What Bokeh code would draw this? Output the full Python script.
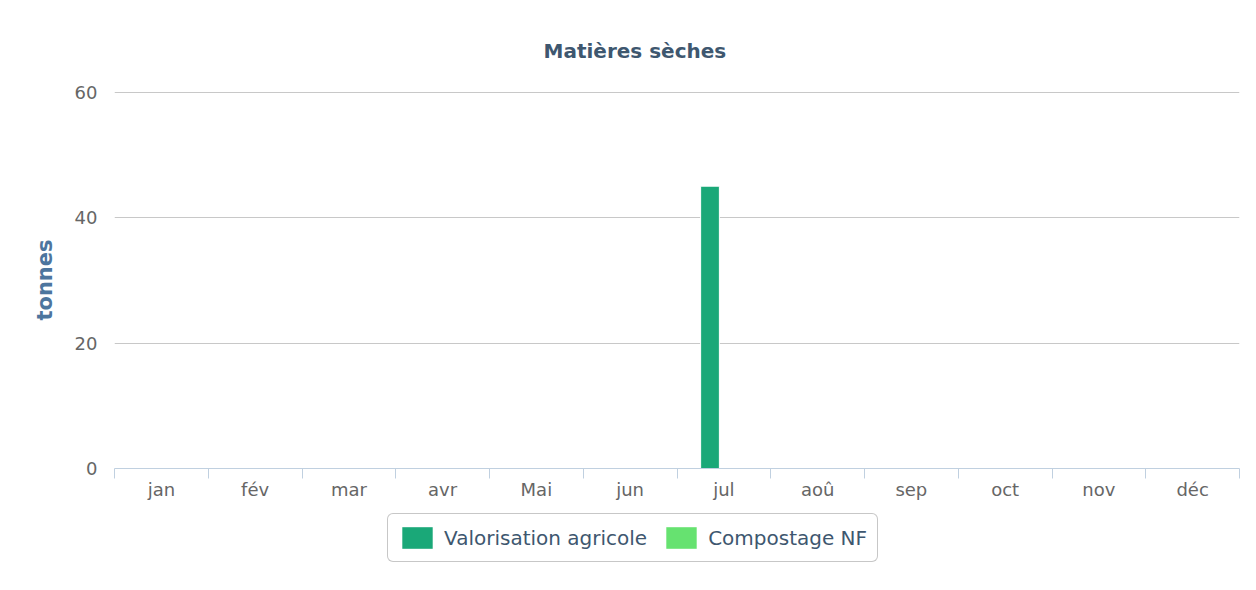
import numpy as np
from bokeh.plotting import figure
from bokeh.layouts import column
from bokeh.models import (ColumnDataSource, Range1d, FixedTicker, Legend, LegendItem,
                          LinearAxis, Grid)
from bokeh.transform import dodge
from bokeh.embed import file_html
from bokeh.resources import INLINE

# ---- data ----
months = ["jan", "fév", "mar", "avr", "Mai", "jun", "jul", "aoû", "sep", "oct", "nov", "déc"]
valorisation = [0, 0, 0, 0, 0, 0, 45, 0, 0, 0, 0, 0]
compostage = [0, 0, 0, 0, 0, 0, 0, 0, 0, 0, 0, 0]
series_names = ["Valorisation agricole", "Compostage NF"]
series_fields = ["v", "c"]
series_colors = ["#1aa878", "#66e270"]
y_ticks = [0, 20, 40, 60]
title_text = "Matières sèches"
y_title = "tonnes"

FONT = "DejaVu Sans"
W = 1248

pos = np.arange(len(months)) + 0.5
src = ColumnDataSource(dict(pos=pos, month=months, v=valorisation, c=compostage))

p = figure(width=W, height=508, output_backend="svg", toolbar_location=None,
           x_range=Range1d(0, len(months)), y_range=Range1d(0, max(y_ticks) * 1.0015),
           x_axis_type=None, y_axis_type=None,
           min_border_left=114, min_border_right=9, min_border_top=91, min_border_bottom=40)
p.outline_line_color = None
p.background_fill_color = "white"
p.border_fill_color = "white"

# title
p.title.text = title_text
p.title.text_font = FONT
p.title.text_font_size = "20px"
p.title.text_font_style = "bold"
p.title.text_color = "#3E576F"
p.title.align = "left"
p.title.offset = 429
p.title.vertical_align = "bottom"
p.title.standoff = 58

# y axis
yticker = FixedTicker(ticks=y_ticks, minor_ticks=[])
yaxis = LinearAxis(ticker=yticker)
yaxis.axis_line_color = None
yaxis.major_tick_line_color = None
yaxis.minor_tick_line_color = None
yaxis.major_tick_out = 0
yaxis.major_tick_in = 0
yaxis.major_label_standoff = 17
yaxis.major_label_text_font = FONT
yaxis.major_label_text_font_size = "18px"
yaxis.major_label_text_color = "#666666"
yaxis.axis_label = y_title
yaxis.axis_label_text_font = FONT
yaxis.axis_label_text_font_size = "21px"
yaxis.axis_label_text_font_style = "bold"
yaxis.axis_label_text_color = "#4d759e"
yaxis.axis_label_standoff = 15
p.add_layout(yaxis, "left")

p.add_layout(Grid(dimension=1, ticker=yticker, grid_line_color="#c8c8c8", grid_line_width=1))

# x axis: labels at category centres, ticks at category boundaries
xticker = FixedTicker(ticks=list(pos), minor_ticks=list(range(len(months) + 1)))
xaxis = LinearAxis(ticker=xticker)
xaxis.major_label_overrides = {float(x): m for x, m in zip(pos, months)}
xaxis.axis_line_color = "#C0D0E0"
xaxis.axis_line_width = 1
xaxis.major_tick_line_color = None
xaxis.major_tick_out = 10
xaxis.major_tick_in = 0
xaxis.minor_tick_line_color = "#C0D0E0"
xaxis.minor_tick_out = 10
xaxis.minor_tick_in = 0
xaxis.major_label_standoff = 0
xaxis.major_label_text_font = FONT
xaxis.major_label_text_font_size = "18px"
xaxis.major_label_text_color = "#666666"
p.add_layout(xaxis, "below")

# bars
p.vbar(x=dodge("pos", -0.148), top="v", width=0.2, source=src,
       fill_color=series_colors[0], line_color="white", line_width=1)
p.vbar(x=dodge("pos", 0.148), top="c", width=0.2, source=src,
       fill_color=series_colors[1], line_color="white", line_width=1)

# legend strip (separate figure so the legend is not clipped by the chart frame);
# its proxy renderers use the same data but lie outside that strip's ranges
LH = 74
p2 = figure(width=W, height=LH, output_backend="svg", toolbar_location=None,
            x_range=Range1d(100, 101), y_range=Range1d(100, 101),
            x_axis_type=None, y_axis_type=None, min_border=0)
p2.outline_line_color = None
p2.background_fill_color = "white"
p2.border_fill_color = "white"
proxies = []
for field, col in zip(series_fields, series_colors):
    proxies.append(p2.vbar(x="pos", top=field, width=0.2, source=src,
                           fill_color=col, line_color=None))

legend = Legend(items=[LegendItem(label=n, renderers=[r]) for n, r in zip(series_names, proxies)],
                orientation="horizontal", location=(273, 20), margin=0)
legend.border_line_color = "#909090"
legend.border_line_width = 1
legend.background_fill_color = "white"
legend.background_fill_alpha = 1
legend.label_text_font = FONT
legend.label_text_font_size = "20px"
legend.label_text_color = "#3E576F"
legend.glyph_width = 38
legend.glyph_height = 27
legend.label_standoff = 8
legend.label_height = 22
legend.spacing = 15
legend.padding = 10
if "border_radius" in Legend.properties():
    legend.border_radius = 6
p2.add_layout(legend, "center")

layout = column(p, p2, spacing=0)
open("out.html", "w").write(file_html(layout, INLINE))
